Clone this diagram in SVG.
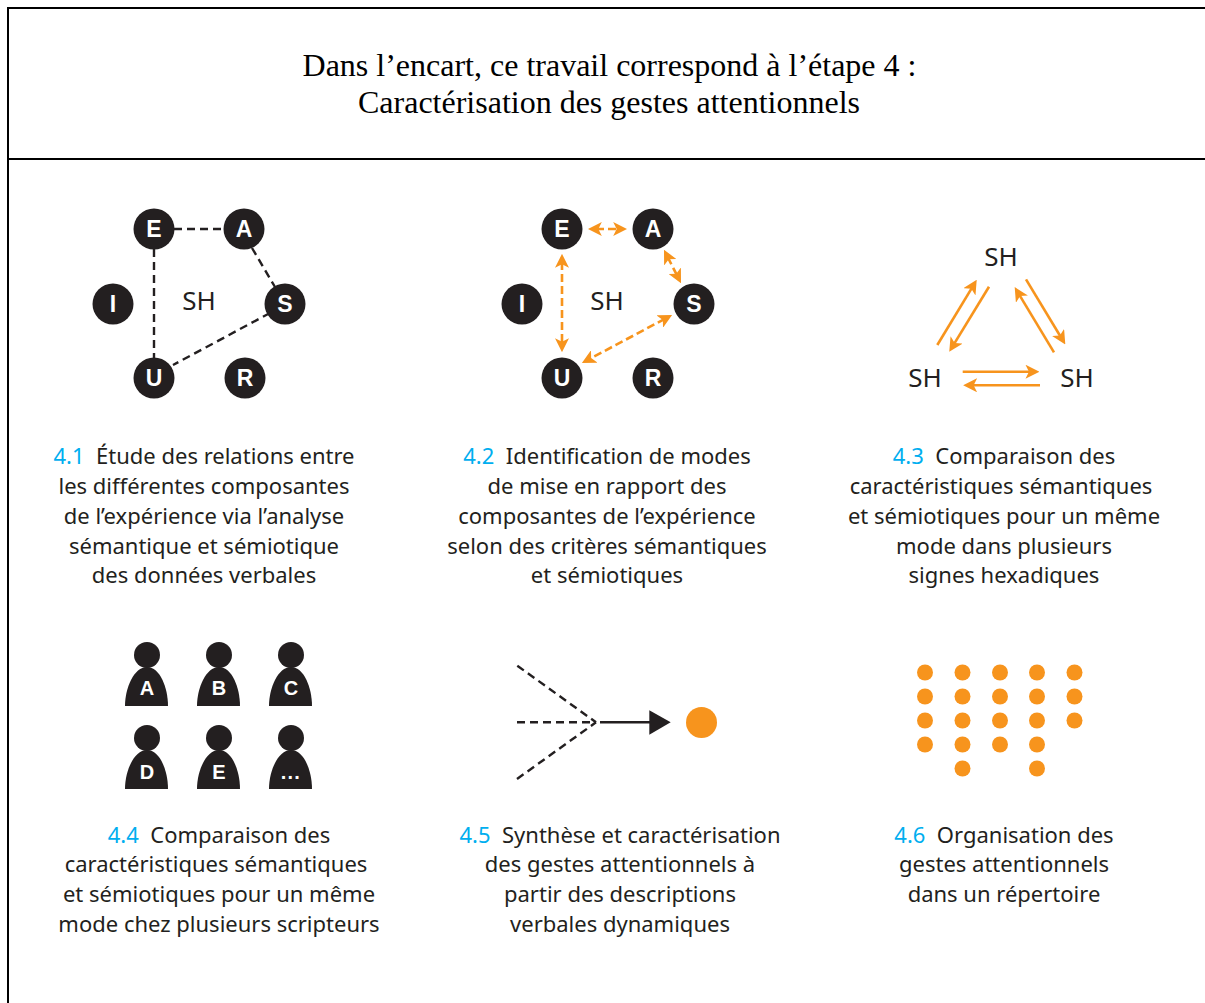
<svg xmlns="http://www.w3.org/2000/svg" width="1205" height="1003" viewBox="0 0 1205 1003">
<style>
.t{font-family:"Noto Sans","Open Sans",sans-serif;font-size:22px;fill:#231f20;text-anchor:middle}
.n{fill:#00aeef}
.title{font-family:"Liberation Serif",serif;font-size:32px;fill:#000;text-anchor:middle}
.sh{font-family:"Noto Sans","Open Sans",sans-serif;font-size:26px;fill:#231f20;text-anchor:middle}
.dot{fill:#231f20}
.l{font-family:"Liberation Sans",sans-serif;font-weight:bold;font-size:23px;fill:#fff;text-anchor:middle}
.pl{font-family:"Liberation Sans",sans-serif;font-weight:bold;font-size:20px;fill:#fff;text-anchor:middle}
.frame{stroke:#000;stroke-width:2;fill:none}
.kd{stroke:#231f20;stroke-width:2.4;stroke-dasharray:8 5;fill:none}
.od{stroke:#f7941d;stroke-width:2.6;stroke-dasharray:8 4;fill:none;marker-start:url(#oh);marker-end:url(#oh)}
.os{stroke:#f7941d;stroke-width:2.6;fill:none;marker-end:url(#oh)}
.o{fill:#f7941d}
</style>
<defs>
<marker id="oh" viewBox="0 0 12 12" markerUnits="userSpaceOnUse" markerWidth="14" markerHeight="14" refX="5" refY="6" orient="auto-start-reverse"><path d="M0,0L12,6L0,12L3,6Z" fill="#f7941d"/></marker>
<g id="person"><circle cx="147" cy="655" r="13" class="dot"/><path class="dot" d="M125,706C125,688 134,667 147,667C160,667 168,688 168,706Z"/></g>
</defs>
<rect width="1205" height="1003" fill="#fff"/>
<g id="frame"><path class="frame" d="M1205,8H8V1003M8,159H1205"/></g>
<g id="title"><text class="title" x="609.5" y="76">Dans l’encart, ce travail correspond à l’étape 4 :</text><text class="title" x="609" y="113">Caractérisation des gestes attentionnels</text></g>
<g id="connectors">
<path class="kd" d="M174,229H224"/><path class="kd" d="M154,249V358"/><path class="kd" d="M252,248L275,287"/><path class="kd" d="M270,313L173,365"/>
<path class="od" d="M596,229H619"/><path class="od" d="M667.7,257.1L677.3,275.9"/><path class="od" d="M664.9,318.8L589.1,359.2"/><path class="od" d="M562,262V344"/>
<path class="os" d="M937.3,345L972.5,286.8"/><path class="os" d="M989,286.7L953.5,344.9"/><path class="os" d="M1026,279.3L1061.1,337.5"/><path class="os" d="M1054,352.3L1018.9,294.1"/><path class="os" d="M962.7,371.7H1031.3"/><path class="os" d="M1040,385.3H971.3"/>
<path class="kd" d="M517.3,665.7L596,722.3"/><path class="kd" d="M517,722.3H596"/><path class="kd" d="M517,779L596,722.3"/>
<path d="M600,722.3H650" stroke="#231f20" stroke-width="2.4" fill="none"/><path class="dot" d="M649.3,710.3L670.7,722.3L649.3,734.7Z"/>
</g>
<g id="p1">
<g id="p1-E"><circle class="dot" cx="154" cy="229" r="20.5"/><text class="l" x="154" y="237">E</text></g>
<g id="p1-A"><circle class="dot" cx="244" cy="229" r="20.5"/><text class="l" x="244" y="237">A</text></g>
<g id="p1-S"><circle class="dot" cx="285" cy="304" r="20.5"/><text class="l" x="285" y="312">S</text></g>
<g id="p1-I"><circle class="dot" cx="113" cy="304" r="20.5"/><text class="l" x="113" y="312">I</text></g>
<g id="p1-U"><circle class="dot" cx="154" cy="378" r="20.5"/><text class="l" x="154" y="386">U</text></g>
<g id="p1-R"><circle class="dot" cx="245" cy="378" r="20.5"/><text class="l" x="245" y="386">R</text></g>
<text class="sh" x="199" y="310">SH</text>
</g>
<g id="p2">
<g id="p2-E"><circle class="dot" cx="562" cy="229" r="20.5"/><text class="l" x="562" y="237">E</text></g>
<g id="p2-A"><circle class="dot" cx="653" cy="229" r="20.5"/><text class="l" x="653" y="237">A</text></g>
<g id="p2-S"><circle class="dot" cx="694" cy="304" r="20.5"/><text class="l" x="694" y="312">S</text></g>
<g id="p2-I"><circle class="dot" cx="522" cy="304" r="20.5"/><text class="l" x="522" y="312">I</text></g>
<g id="p2-U"><circle class="dot" cx="562" cy="378" r="20.5"/><text class="l" x="562" y="386">U</text></g>
<g id="p2-R"><circle class="dot" cx="653" cy="378" r="20.5"/><text class="l" x="653" y="386">R</text></g>
<text class="sh" x="607" y="310">SH</text>
</g>
<g id="p3"><text class="sh" x="1001" y="266">SH</text><text class="sh" x="925" y="387">SH</text><text class="sh" x="1077" y="387">SH</text></g>
<g id="p4">
<g id="person-A"><use href="#person"/><text class="pl" x="147" y="695">A</text></g>
<g id="person-B"><use href="#person" x="72"/><text class="pl" x="219" y="695">B</text></g>
<g id="person-C"><use href="#person" x="144"/><text class="pl" x="291" y="695">C</text></g>
<g id="person-D"><use href="#person" y="83"/><text class="pl" x="147" y="779">D</text></g>
<g id="person-E"><use href="#person" x="72" y="83"/><text class="pl" x="219" y="779">E</text></g>
<g id="person-more"><use href="#person" x="144" y="83"/><text class="pl" x="291" y="779" style="letter-spacing:1.2px">...</text></g>
</g>
<g id="p5"><circle class="o" cx="701.5" cy="722.5" r="15.5"/></g>
<g id="p6" class="o">
<circle cx="925" cy="672.5" r="8"/><circle cx="925" cy="696.5" r="8"/><circle cx="925" cy="720.5" r="8"/><circle cx="925" cy="744.5" r="8"/>
<circle cx="962.5" cy="672.5" r="8"/><circle cx="962.5" cy="696.5" r="8"/><circle cx="962.5" cy="720.5" r="8"/><circle cx="962.5" cy="744.5" r="8"/><circle cx="962.5" cy="768.5" r="8"/>
<circle cx="1000" cy="672.5" r="8"/><circle cx="1000" cy="696.5" r="8"/><circle cx="1000" cy="720.5" r="8"/><circle cx="1000" cy="744.5" r="8"/>
<circle cx="1037" cy="672.5" r="8"/><circle cx="1037" cy="696.5" r="8"/><circle cx="1037" cy="720.5" r="8"/><circle cx="1037" cy="744.5" r="8"/><circle cx="1037" cy="768.5" r="8"/>
<circle cx="1074.5" cy="672.5" r="8"/><circle cx="1074.5" cy="696.5" r="8"/><circle cx="1074.5" cy="720.5" r="8"/>
</g>
<g id="cap-41"><text class="t" x="204" y="464"><tspan class="n">4.1</tspan>&#160; Étude des relations entre</text><text class="t" x="204" y="494">les différentes composantes</text><text class="t" x="204" y="524">de l’expérience via l’analyse</text><text class="t" x="204" y="554">sémantique et sémiotique</text><text class="t" x="204" y="583">des données verbales</text></g>
<g id="cap-42"><text class="t" x="607" y="464"><tspan class="n">4.2</tspan>&#160; Identification de modes</text><text class="t" x="607" y="494">de mise en rapport des</text><text class="t" x="607" y="524">composantes de l’expérience</text><text class="t" x="607" y="554">selon des critères sémantiques</text><text class="t" x="607" y="583">et sémiotiques</text></g>
<g id="cap-43"><text class="t" x="1004" y="464"><tspan class="n">4.3</tspan>&#160; Comparaison des</text><text class="t" x="1001" y="494">caractéristiques sémantiques</text><text class="t" x="1004" y="524">et sémiotiques pour un même</text><text class="t" x="1004" y="554">mode dans plusieurs</text><text class="t" x="1004" y="583">signes hexadiques</text></g>
<g id="cap-44"><text class="t" x="219" y="843"><tspan class="n">4.4</tspan>&#160; Comparaison des</text><text class="t" x="216" y="872">caractéristiques sémantiques</text><text class="t" x="219" y="902">et sémiotiques pour un même</text><text class="t" x="219" y="932">mode chez plusieurs scripteurs</text></g>
<g id="cap-45"><text class="t" x="620" y="843"><tspan class="n">4.5</tspan>&#160; Synthèse et caractérisation</text><text class="t" x="620" y="872">des gestes attentionnels à</text><text class="t" x="620" y="902">partir des descriptions</text><text class="t" x="620" y="932">verbales dynamiques</text></g>
<g id="cap-46"><text class="t" x="1004" y="843"><tspan class="n">4.6</tspan>&#160; Organisation des</text><text class="t" x="1004" y="872">gestes attentionnels</text><text class="t" x="1004" y="902">dans un répertoire</text></g>
</svg>
